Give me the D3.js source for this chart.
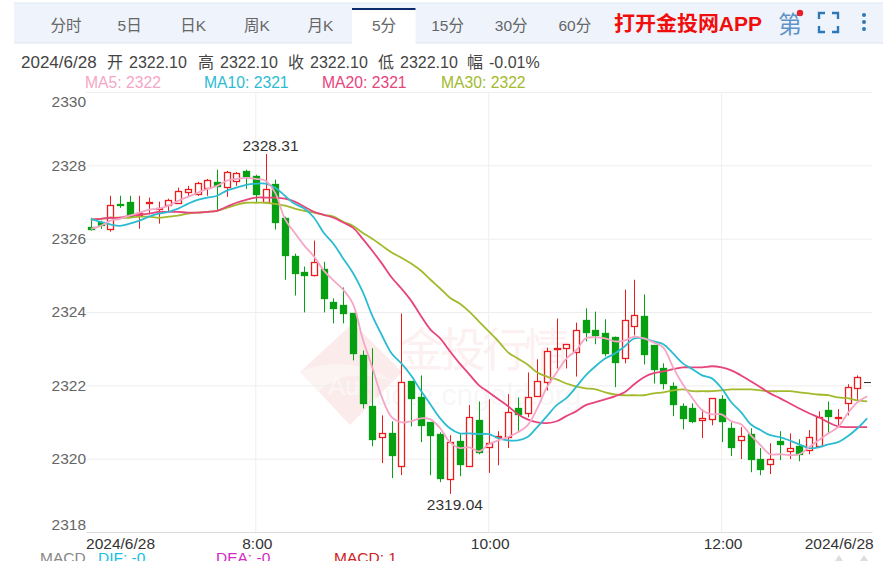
<!DOCTYPE html>
<html>
<head>
<meta charset="utf-8">
<script src="https://cdn.jsdelivr.net/npm/d3@7/dist/d3.min.js"></script>
<style>
  html, body { margin: 0; padding: 0; background: #fff; overflow: hidden; }
  svg { display: block; font-family: "Liberation Sans", "Noto Sans CJK SC", sans-serif; }
</style>
</head>
<body>
<div id="chart"></div>
<script>
/* 5分 K 线 */
const TABS = ["分时", "5日", "日K", "周K", "月K", "5分", "15分", "30分", "60分"];
const Y_TICKS = [2318, 2320, 2322, 2324, 2326, 2328, 2330];
const X_TICK_INDEX = [0, 17, 41, 65, 80];
const X_TICK_LABELS = ["2024/6/28", "8:00", "10:00", "12:00", "2024/6/28"];
const HEADER_TEXTS = ["2024/6/28", "开", "2322.10", "高", "2322.10", "收", "2322.10", "低", "2322.10", "幅", "-0.01%"];
const HEADER_X = [21, 107, 129, 198, 220, 288, 310, 378, 400, 467, 489];

const opens = [2326.33,2326.46,2326.27,2326.95,2327.01,2326.63,2326.95,2326.80,2326.92,2326.99,2327.28,2327.22,2327.39,2327.55,2327.41,2327.58,2327.85,2327.71,2327.01,2327.50,2326.57,2325.54,2325.10,2325.02,2325.18,2324.26,2324.18,2323.96,2322.82,2321.43,2320.59,2320.69,2319.80,2322.11,2321.67,2320.99,2320.67,2319.44,2320.48,2319.80,2321.05,2320.31,2320.59,2320.59,2321.37,2321.24,2321.70,2322.11,2323.01,2323.01,2322.90,2323.77,2323.50,2323.44,2323.33,2322.73,2323.63,2323.90,2323.09,2322.46,2321.97,2321.43,2321.37,2321.05,2321.07,2321.62,2320.83,2320.50,2320.67,2319.99,2319.85,2320.48,2320.20,2320.34,2320.23,2320.34,2321.32,2321.10,2321.51,2321.95,2322.10];
const closes = [2326.27,2326.38,2326.92,2326.91,2326.63,2326.69,2326.99,2326.84,2327.06,2327.31,2327.36,2327.52,2327.60,2327.44,2327.82,2327.80,2327.71,2327.22,2327.36,2326.46,2325.56,2325.07,2325.02,2325.37,2324.39,2324.10,2323.96,2322.87,2321.51,2320.53,2320.69,2320.10,2322.08,2321.65,2320.91,2320.64,2319.47,2320.45,2319.85,2321.13,2320.18,2320.42,2320.61,2321.27,2321.21,2321.67,2322.11,2322.95,2323.03,2323.12,2323.50,2323.44,2323.36,2322.90,2322.65,2323.77,2323.93,2322.87,2322.44,2322.05,2321.48,2321.10,2321.02,2321.10,2321.65,2321.02,2320.31,2320.61,2319.99,2319.71,2319.99,2320.39,2320.29,2320.12,2320.59,2321.13,2321.16,2321.13,2321.95,2322.24,2322.10];
const highs = [2326.57,2326.49,2327.17,2327.17,2327.17,2327.17,2327.12,2327.01,2327.09,2327.39,2327.44,2327.55,2327.63,2327.88,2327.85,2327.82,2327.88,2327.74,2328.31,2327.61,2326.60,2325.59,2325.24,2325.95,2325.37,2324.37,2324.67,2323.96,2322.95,2323.01,2321.18,2321.02,2323.96,2322.11,2322.27,2320.99,2320.72,2320.64,2320.69,2321.46,2321.56,2321.62,2320.75,2321.76,2321.67,2322.35,2322.71,2323.03,2323.82,2323.12,2323.71,2324.10,2324.01,2323.80,2323.33,2324.61,2324.88,2324.48,2323.09,2322.60,2322.08,2321.51,2321.51,2321.35,2321.65,2321.73,2320.99,2320.86,2320.83,2320.29,2320.42,2320.75,2320.69,2320.53,2320.78,2321.29,2321.56,2321.35,2322.03,2322.27,2322.10];
const lows = [2326.22,2326.27,2326.19,2326.84,2326.63,2326.27,2326.68,2326.41,2326.73,2326.95,2327.14,2327.17,2327.17,2326.76,2327.14,2327.44,2327.36,2326.98,2326.98,2326.25,2324.88,2324.45,2323.99,2324.97,2323.99,2323.69,2323.69,2322.68,2321.37,2320.34,2319.88,2319.47,2319.55,2320.88,2320.45,2319.55,2319.36,2319.04,2319.52,2319.77,2320.12,2319.61,2319.82,2320.29,2320.75,2321.13,2321.70,2321.86,2322.46,2322.46,2322.24,2323.20,2323.12,2322.79,2321.95,2322.60,2323.36,2322.57,2322.05,2321.89,2321.16,2320.80,2320.97,2320.56,2320.91,2320.45,2320.07,2319.99,2319.63,2319.55,2319.58,2319.96,2319.99,2319.93,2320.12,2320.34,2320.67,2320.86,2321.18,2321.59,2322.10];

const ma5 = [2326.27,2326.35,2326.49,2326.54,2326.63,2326.71,2326.79,2326.82,2326.90,2327.03,2327.14,2327.25,2327.36,2327.44,2327.58,2327.63,2327.66,2327.63,2327.58,2327.25,2326.54,2326.16,2325.81,2325.51,2325.13,2324.86,2324.61,2324.23,2323.28,2322.49,2321.67,2321.13,2320.99,2321.02,2321.10,2321.07,2320.83,2320.45,2320.29,2320.31,2320.20,2320.39,2320.50,2320.59,2320.72,2320.91,2321.37,2321.95,2322.35,2322.73,2322.95,2323.28,2323.31,2323.28,2323.20,2323.22,2323.33,2323.28,2323.17,2323.03,2322.49,2322.03,2321.65,2321.32,2321.21,2321.21,2321.02,2320.94,2320.64,2320.37,2320.12,2320.12,2320.10,2320.12,2320.31,2320.50,2320.69,2320.86,2321.24,2321.54,2321.70];
const ma10 = [2326.54,2326.46,2326.39,2326.35,2326.41,2326.49,2326.60,2326.68,2326.73,2326.82,2326.95,2327.06,2327.12,2327.17,2327.31,2327.39,2327.47,2327.50,2327.50,2327.39,2327.17,2326.95,2326.82,2326.57,2326.16,2325.86,2325.46,2325.07,2324.56,2323.90,2323.36,2322.87,2322.60,2322.27,2321.86,2321.48,2321.10,2320.83,2320.69,2320.69,2320.67,2320.67,2320.56,2320.50,2320.50,2320.59,2320.86,2321.16,2321.46,2321.65,2321.95,2322.27,2322.52,2322.73,2322.87,2323.06,2323.28,2323.28,2323.20,2323.12,2322.87,2322.60,2322.44,2322.27,2322.19,2321.92,2321.54,2321.27,2320.94,2320.78,2320.64,2320.59,2320.50,2320.39,2320.29,2320.31,2320.39,2320.45,2320.61,2320.83,2321.10];
const ma20 = [2326.52,2326.54,2326.57,2326.57,2326.63,2326.65,2326.68,2326.73,2326.73,2326.73,2326.71,2326.71,2326.73,2326.76,2326.87,2326.98,2327.06,2327.12,2327.12,2327.12,2327.09,2327.01,2326.87,2326.73,2326.65,2326.57,2326.44,2326.30,2326.00,2325.67,2325.32,2324.94,2324.64,2324.31,2323.90,2323.52,2323.28,2322.93,2322.60,2322.30,2322.00,2321.81,2321.62,2321.43,2321.21,2321.07,2320.99,2320.97,2321.02,2321.16,2321.29,2321.46,2321.54,2321.62,2321.70,2321.81,2322.03,2322.22,2322.33,2322.38,2322.44,2322.49,2322.49,2322.49,2322.52,2322.49,2322.41,2322.27,2322.11,2321.95,2321.78,2321.65,2321.51,2321.37,2321.24,2321.13,2320.99,2320.88,2320.86,2320.86,2320.86];
const ma30 = [2326.52,2326.54,2326.57,2326.57,2326.57,2326.60,2326.60,2326.57,2326.60,2326.63,2326.68,2326.71,2326.73,2326.76,2326.84,2326.92,2326.98,2326.98,2326.98,2326.95,2326.90,2326.82,2326.76,2326.71,2326.65,2326.60,2326.46,2326.35,2326.16,2326.00,2325.81,2325.62,2325.48,2325.32,2325.13,2324.88,2324.64,2324.39,2324.23,2324.01,2323.74,2323.47,2323.20,2322.90,2322.73,2322.57,2322.35,2322.24,2322.16,2322.05,2321.97,2321.92,2321.89,2321.81,2321.75,2321.73,2321.73,2321.73,2321.78,2321.81,2321.86,2321.89,2321.84,2321.84,2321.84,2321.86,2321.89,2321.89,2321.89,2321.86,2321.84,2321.84,2321.84,2321.81,2321.78,2321.75,2321.73,2321.67,2321.65,2321.59,2321.56];

const MA_LINES = [
  { name: "MA30", values: ma30, color: "#a2ba2c", legend: "2322", x: 441 },
  { name: "MA20", values: ma20, color: "#e8447c", legend: "2321", x: 322 },
  { name: "MA10", values: ma10, color: "#2cbcd2", legend: "2321", x: 204 },
  { name: "MA5",  values: ma5,  color: "#f5a6c6", legend: "2322", x: 85 }
];

const WIDTH = 883, HEIGHT = 561;
const PLOT = { left: 86, right: 872, top: 92, bottom: 532 };
const UP = "#ea1c1c", DOWN = "#06a012";

const svg = d3.select("#chart").append("svg")
  .attr("width", WIDTH).attr("height", HEIGHT);

const x = d3.scaleBand()
  .domain(d3.range(opens.length))
  .range([PLOT.left, PLOT.right]);
const y = d3.scaleLinear()
  .domain([2318, 2330])
  .range([PLOT.bottom, PLOT.top]);
const cx = i => x(i) + x.bandwidth() / 2;
const snap = i => Math.round(cx(i)) + 0.5;

/* ── TOOLBAR ─────────────────────────────────── */

svg.append("rect").attr("x", 14).attr("y", 3).attr("width", 869).attr("height", 40)
  .attr("fill", "#eff4fc");
svg.append("line").attr("x1", 14).attr("x2", 883).attr("y1", 3).attr("y2", 3)
  .attr("stroke", "#dfe6f0");
svg.append("line").attr("x1", 14).attr("x2", 883).attr("y1", 43).attr("y2", 43)
  .attr("stroke", "#d9e3f0");
svg.append("rect").attr("x", 352).attr("y", 8).attr("width", 63.5).attr("height", 36)
  .attr("fill", "#fff");
svg.append("rect").attr("x", 352).attr("y", 8).attr("width", 63.5).attr("height", 2)
  .attr("fill", "#0b2a6b");

svg.selectAll("text.tab").data(TABS).join("text")
  .attr("class", "tab")
  .attr("x", (d, i) => 66 + i * 63.6)
  .attr("y", 31)
  .attr("text-anchor", "middle")
  .attr("font-size", 15.5)
  .attr("fill", "#666")
  .text(d => d);

svg.append("text").attr("x", 614).attr("y", 31)
  .attr("font-size", 20).attr("font-weight", "bold").attr("fill", "#f20d0d")
  .attr("textLength", 148).attr("lengthAdjust", "spacingAndGlyphs")
  .text("打开金投网APP");
svg.append("text").attr("x", 790).attr("y", 33)
  .attr("text-anchor", "middle").attr("font-size", 24).attr("fill", "#5f93c8")
  .text("第");
svg.append("circle").attr("cx", 800).attr("cy", 13).attr("r", 3.2).attr("fill", "#e8202a");

// 全屏图标
const corners = [[819, 13, 1, 1], [838, 13, -1, 1], [819, 32, 1, -1], [838, 32, -1, -1]];
svg.selectAll("path.corner").data(corners).join("path")
  .attr("class", "corner")
  .attr("d", d => `M${d[0] + d[2] * 6},${d[1]}H${d[0]}V${d[1] + d[3] * 6}`)
  .attr("fill", "none").attr("stroke", "#2f78b8").attr("stroke-width", 2.4);
svg.selectAll("circle.more").data([15, 22, 29]).join("circle")
  .attr("class", "more")
  .attr("cx", 864).attr("cy", d => d).attr("r", 2).attr("fill", "#2f78b8");

/* ── HEADER + LEGEND ─────────────────────────── */

svg.selectAll("text.head").data(HEADER_TEXTS).join("text")
  .attr("class", "head")
  .attr("x", (d, i) => HEADER_X[i]).attr("y", 68)
  .attr("font-size", (d, i) => i === 0 ? 17 : 16)
  .attr("fill", "#444")
  .text(d => d);

svg.selectAll("text.legend").data(MA_LINES).join("text")
  .attr("class", "legend")
  .attr("x", d => d.x).attr("y", 88)
  .attr("font-size", 15.7)
  .attr("fill", d => d.color)
  .text(d => `${d.name}: ${d.legend}`);

/* ── WATERMARK ───────────────────────────────── */

const mark = svg.append("g");
mark.append("path")
  .attr("d", "M300,372L353,323L402,372L350,425Z")
  .attr("fill", "#d8463a").attr("opacity", 0.1);
mark.append("path")
  .attr("d", "M300,372Q345,352 395,382Q345,365 318,392Z")
  .attr("fill", "#fff").attr("opacity", 0.4);
mark.append("text").attr("x", 328).attr("y", 395)
  .attr("font-size", 26).attr("fill", "#fff").attr("opacity", 0.5).text("Au");
mark.append("text").attr("x", 398).attr("y", 366)
  .attr("font-size", 46).attr("fill", "#d8463a").attr("opacity", 0.07)
  .attr("textLength", 172).text("金投行情");
mark.append("text").attr("x", 358).attr("y", 405)
  .attr("font-size", 30).attr("fill", "#999").attr("opacity", 0.07)
  .text("quote.cngold.org");

/* ── AXES ────────────────────────────────────── */

const gridY = svg.append("g")
  .attr("transform", `translate(${PLOT.left},0)`)
  .call(d3.axisLeft(y)
    .tickValues(Y_TICKS)
    .tickFormat(d3.format("d"))
    .tickSize(-(PLOT.right - PLOT.left))
    .tickPadding(0));
gridY.select(".domain").remove();
gridY.selectAll(".tick line").attr("stroke", "#eeeeee");
gridY.selectAll(".tick text")
  .attr("font-family", "Liberation Sans")
  .attr("font-size", 15.5)
  .attr("fill", "#666")
  .attr("dy", d => d === 2330 ? "0.95em" : d === 2318 ? "-0.18em" : "0.32em");

const gridX = svg.append("g")
  .attr("transform", `translate(0,${PLOT.bottom})`)
  .call(d3.axisBottom(x)
    .tickValues(X_TICK_INDEX)
    .tickSize(0)
    .tickPadding(6)
    .tickFormat((d, i) => X_TICK_LABELS[i]));
gridX.select(".domain").attr("stroke", "#dcdcdc");
gridX.selectAll(".tick text")
  .attr("font-family", "Liberation Sans")
  .attr("font-size", 15.5)
  .attr("fill", "#333")
  .attr("text-anchor", (d, i) => i === 0 ? "start" : i === X_TICK_INDEX.length - 1 ? "end" : "middle")
  .attr("dx", (d, i) => i === 0 ? -4.8 : i === X_TICK_INDEX.length - 1 ? 6.5 : 1.5);

svg.selectAll("line.vgrid").data(X_TICK_INDEX.slice(1, -1)).join("line")
  .attr("class", "vgrid")
  .attr("x1", d => cx(d)).attr("x2", d => cx(d))
  .attr("y1", PLOT.top).attr("y2", PLOT.bottom)
  .attr("stroke", "#eeeeee");

/* ── CANDLES ─────────────────────────────────── */

const isFlat = i => opens[i] === closes[i];
const candleColor = i => isFlat(i) ? "#333" : closes[i] > opens[i] ? UP : DOWN;
const candles = svg.append("g").selectAll("g").data(d3.range(opens.length)).join("g");

candles.append("line")
  .attr("x1", snap).attr("x2", snap)
  .attr("y1", i => y(highs[i])).attr("y2", i => y(lows[i]))
  .attr("stroke", candleColor).attr("stroke-width", 1);

candles.append("rect")
  .attr("x", i => snap(i) - 3)
  .attr("width", 6)
  .attr("y", i => Math.round(y(Math.max(opens[i], closes[i]))) + 0.5)
  .attr("height", i => isFlat(i) ? 0.1 : Math.max(1, Math.round(Math.abs(y(opens[i]) - y(closes[i])))))
  .attr("fill", i => closes[i] > opens[i] ? "#fff" : candleColor(i))
  .attr("stroke", candleColor)
  .attr("stroke-width", i => isFlat(i) ? 0.9 : 1.3);

/* ── MOVING AVERAGES ─────────────────────────── */

const maLine = d3.line()
  .x((d, i) => cx(i))
  .y(d => y(d))
  .curve(d3.curveCatmullRom.alpha(0.5));

svg.append("g").selectAll("path").data(MA_LINES).join("path")
  .attr("d", d => maLine(d.values))
  .attr("fill", "none")
  .attr("stroke", d => d.color)
  .attr("stroke-width", 1.8);

/* ── EXTREMES ────────────────────────────────── */

svg.append("text").attr("x", cx(18) + 5).attr("y", y(d3.max(highs)) - 3)
  .attr("text-anchor", "middle").attr("font-size", 15.5).attr("fill", "#333")
  .text(d3.max(highs).toFixed(2));
svg.append("text").attr("x", cx(37) + 5).attr("y", y(d3.min(lows)) + 16)
  .attr("text-anchor", "middle").attr("font-size", 15.5).attr("fill", "#333")
  .text(d3.min(lows).toFixed(2));

/* ── MACD LEGEND (cut off by the window) ─────── */

const macdLabels = [
  { text: "MACD",     x: 40,  color: "#888" },
  { text: "DIF: -0",  x: 98,  color: "#18bfe0" },
  { text: "DEA: -0",  x: 216, color: "#d52bc4" },
  { text: "MACD: 1",  x: 334, color: "#c22" }
];
svg.selectAll("text.macd").data(macdLabels).join("text")
  .attr("class", "macd")
  .attr("x", d => d.x).attr("y", 563)
  .attr("font-size", 15.5)
  .attr("fill", d => d.color)
  .text(d => d.text);

svg.selectAll("path.scroll").data([839, 864]).join("path")
  .attr("class", "scroll")
  .attr("d", d => `M${d - 4},561L${d},555L${d + 4},561Z`)
  .attr("fill", "#ddd");
</script>
</body>
</html>
